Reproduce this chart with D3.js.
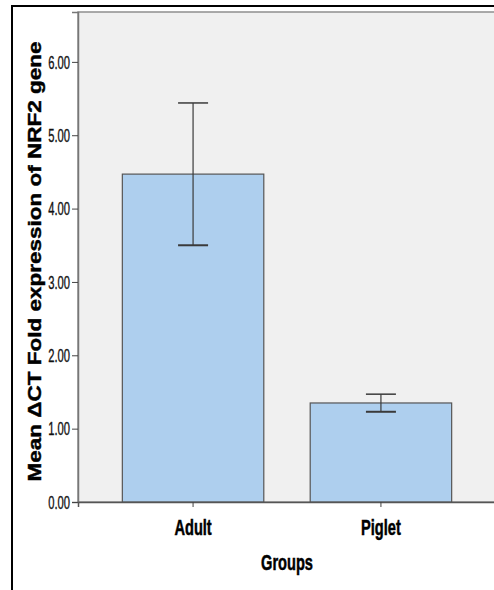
<!DOCTYPE html>
<html>
<head>
<meta charset="utf-8">
<script src="https://cdn.jsdelivr.net/npm/d3@7"></script>
<style>
  html, body { margin: 0; padding: 0; background: #fff; }
  svg { display: block; }
</style>
</head>
<body>
<div id="viz"></div>
<script>
// values (mean with 95% CI)
const groups = ["Adult", "Piglet"];
const means = [4.47, 1.35];
const ciLow = [3.50, 1.23];
const ciHigh = [5.44, 1.47];
const yTicks = [0, 1, 2, 3, 4, 5, 6];

const WIDTH = 494, HEIGHT = 590;
const plot = {left: 78, right: 496, top: 12, bottom: 502};
const SQUEEZE = 0.68; // text in the original is narrowed horizontally

const svg = d3.select("#viz").append("svg")
  .attr("width", WIDTH)
  .attr("height", HEIGHT);

// outer frame (runs off the right / bottom edge)
svg.append("rect")
  .attr("x", 12).attr("y", 6)
  .attr("width", 520).attr("height", 620)
  .attr("fill", "none")
  .attr("stroke", "#000")
  .attr("stroke-width", 2);

const x = d3.scaleBand()
  .domain(groups)
  .range([plot.left, plot.right])
  .paddingInner(0.247)
  .paddingOuter(0.236);

const y = d3.scaleLinear()
  .domain([0, 6.68])
  .range([plot.bottom, plot.top]);

// plot background
svg.append("rect")
  .attr("x", plot.left).attr("y", plot.top)
  .attr("width", plot.right - plot.left)
  .attr("height", plot.bottom - plot.top)
  .attr("fill", "#f0f0f0")
  .attr("stroke", "#8f8f8f")
  .attr("stroke-width", 1.5);

const data = groups.map((g, i) => ({g, m: means[i], lo: ciLow[i], hi: ciHigh[i]}));

svg.append("g").selectAll("rect")
  .data(data)
  .join("rect")
  .attr("x", d => x(d.g))
  .attr("y", d => y(d.m))
  .attr("width", x.bandwidth())
  .attr("height", d => y(0) - y(d.m))
  .attr("fill", "#aecfee")
  .attr("stroke", "#555")
  .attr("stroke-width", 1.2);

// error bars
const capHalf = 15;
const eb = svg.append("g")
  .attr("stroke", "#3a3a3a")
  .attr("stroke-width", 1.2);
data.forEach(d => {
  const cx = x(d.g) + x.bandwidth() / 2;
  eb.append("line").attr("x1", cx).attr("x2", cx).attr("y1", y(d.hi)).attr("y2", y(d.lo));
  eb.append("line").attr("x1", cx - capHalf).attr("x2", cx + capHalf).attr("y1", y(d.hi)).attr("y2", y(d.hi)).attr("stroke-width", 1.5);
  eb.append("line").attr("x1", cx - capHalf).attr("x2", cx + capHalf).attr("y1", y(d.lo)).attr("y2", y(d.lo)).attr("stroke-width", 2);
});

// y axis
const yAxis = svg.append("g")
  .attr("transform", `translate(${plot.left},0)`)
  .call(d3.axisLeft(y).tickValues(yTicks).tickSize(6).tickFormat(d3.format(".2f")));
yAxis.select(".domain").attr("stroke", "#777").attr("stroke-width", 1.5);
yAxis.selectAll(".tick line").attr("stroke", "#444");
yAxis.selectAll(".tick text")
  .attr("x", 0)
  .attr("dy", "0.36em")
  .attr("transform", `translate(-8,0) scale(0.64,1)`)
  .style("font-family", "'Liberation Sans', Arial, sans-serif")
  .style("font-size", "17.5px")
  .attr("fill", "#111")
  .attr("stroke", "#111")
  .attr("stroke-width", 0.35);

// x axis
const xAxis = svg.append("g")
  .attr("transform", `translate(0,${plot.bottom})`)
  .call(d3.axisBottom(x).tickSize(5));
xAxis.select(".domain").attr("stroke", "#555").attr("stroke-width", 1.5);
xAxis.selectAll(".tick line").attr("stroke", "#444");
xAxis.selectAll(".tick text")
  .attr("y", 0)
  .attr("dy", 0)
  .attr("transform", `translate(0,33) scale(${SQUEEZE},1)`)
  .style("font-family", "'Liberation Sans', Arial, sans-serif")
  .style("font-size", "21.5px")
  .style("font-weight", "bold")
  .attr("fill", "#000")
  .attr("stroke", "#000")
  .attr("stroke-width", 0.5);

// x title
svg.append("text")
  .attr("transform", `translate(${(plot.left + plot.right) / 2},569.5) scale(${SQUEEZE},1)`)
  .attr("text-anchor", "middle")
  .style("font-family", "'Liberation Sans', Arial, sans-serif")
  .style("font-size", "21.5px")
  .style("font-weight", "bold")
  .attr("stroke", "#000")
  .attr("stroke-width", 0.5)
  .text("Groups");

// y title
svg.append("text")
  .attr("transform", "translate(40.5,261.5) rotate(-90)")
  .attr("text-anchor", "middle")
  .attr("textLength", 440)
  .attr("lengthAdjust", "spacingAndGlyphs")
  .style("font-family", "'Liberation Sans', Arial, sans-serif")
  .style("font-size", "17.5px")
  .style("font-weight", "bold")
  .attr("stroke", "#000")
  .attr("stroke-width", 0.4)
  .text("Mean \u0394CT Fold expression of NRF2 gene");
</script>
</body>
</html>
